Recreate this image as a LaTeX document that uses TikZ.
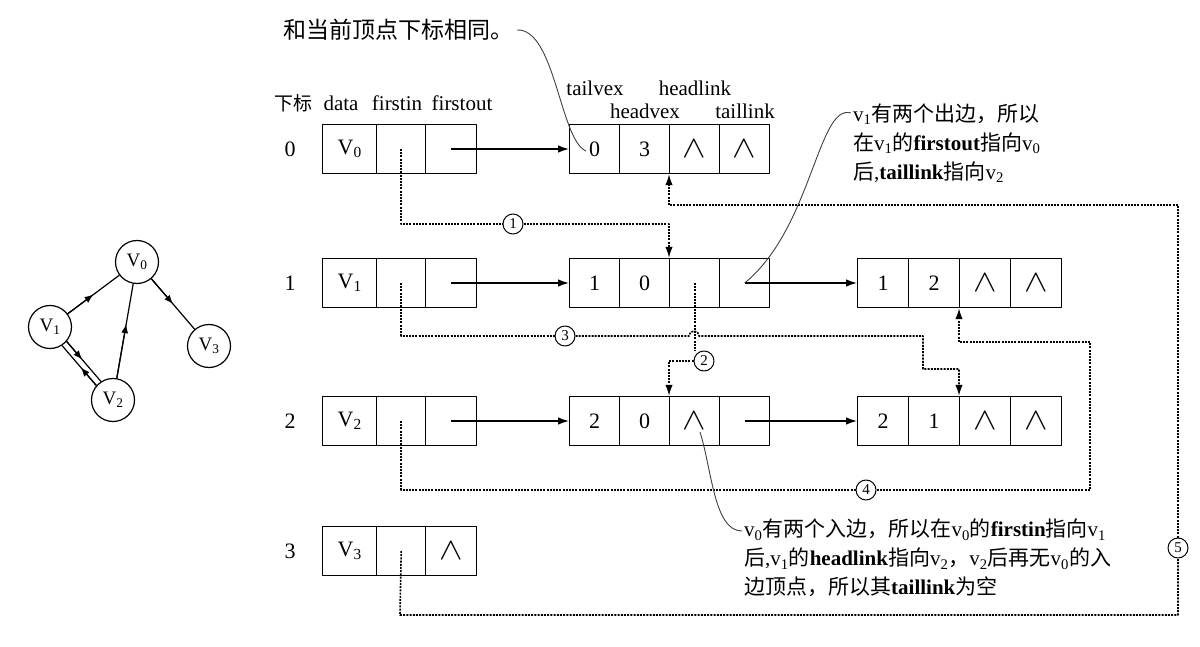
\documentclass[tikz,border=0pt]{standalone}
\usepackage{fontspec}
\setmainfont{Liberation Serif}
\newfontfamily\cjk{Noto Sans CJK SC}
\usetikzlibrary{arrows.meta,calc}
\newcommand\nullp{\scalebox{1.7}[1.5]{$\wedge$}}
\tikzset{
  lat/.style={font=\fontsize{21}{24}\selectfont},
  cell/.style={draw, line width=1.4pt, minimum height=49pt, inner sep=0pt, anchor=west, font=\fontsize{22}{22}\selectfont},
  idx/.style={font=\fontsize{22}{22}\selectfont},
  arr/.style={line width=1.3pt, -{Latex[length=11pt,width=7.5pt]}},
  dots/.style={line width=1.6pt, dash pattern=on 2pt off 1.2pt},
  dotarr/.style={dots, -{Latex[length=11pt,width=7.5pt]}},
  circ/.style={draw, circle, line width=1pt, minimum size=20pt, inner sep=0pt, fill=white, font=\fontsize{15}{15}\selectfont},
  callout/.style={line width=0.9pt, draw=black!75},
  gv/.style={draw, circle, minimum size=43pt, inner sep=0pt, line width=1.2pt, font=\fontsize{19}{19}\selectfont},
  gedge/.style={line width=1.2pt},
  garr/.style={line width=1.2pt, -{Latex[length=9pt,width=7pt]}},
  note/.style={anchor=north west, align=left, inner sep=0pt, font=\fontsize{21}{29}\selectfont}
}
\begin{document}
\begin{tikzpicture}[x=1pt,y=-1pt,line join=round]
\useasboundingbox (0,0) rectangle (1200,647);

% ---------- small graph ----------
\node[gv] (v0) at (137,262) {V\textsubscript{0}};
\node[gv] (v1) at (50,327) {V\textsubscript{1}};
\node[gv] (v2) at (113,400) {V\textsubscript{2}};
\node[gv] (v3) at (209,346) {V\textsubscript{3}};
\draw[gedge] (v1) -- (v0);
\draw[garr] (v1) -- ($(v1)!0.5!(v0)$);
\draw[gedge] (v2) -- (v0);
\draw[garr] (v2) -- ($(v2)!0.55!(v0)$);
\draw[gedge] (v0) -- (v3);
\draw[garr] (v0) -- ($(v0)!0.5!(v3)$);
\draw[gedge] (v1.-41) -- (v2.123);
\draw[garr] (v1.-41) -- ($(v1.-41)!0.45!(v2.123)$);
\draw[gedge] (v2.139) -- (v1.-57);
\draw[garr] (v2.139) -- ($(v2.139)!0.45!(v1.-57)$);

% ---------- headers ----------
\node[font=\cjk\fontsize{23}{26}\selectfont, anchor=east] (t1) at (517,30) {和当前顶点下标相同。};
\node[font=\cjk\fontsize{19}{22}\selectfont] (hxb) at (293,103) {下标};
\node[lat] (hdata) at (341,103) {data};
\node[lat] (hfin) at (397,103) {firstin};
\node[lat] (hfout) at (462,103) {firstout};
\node[lat] (htv) at (595,88) {tailvex};
\node[lat] (hhl) at (695,88) {headlink};
\node[lat] (hhv) at (645,111) {headvex};
\node[lat] (htl) at (745,111) {taillink};

% ---------- index labels ----------
\node[idx] (n0) at (290,149) {0};
\node[idx] (n1) at (290,283) {1};
\node[idx] (n2) at (290,421) {2};
\node[idx] (n3) at (290,551) {3};

% ---------- vertex table ----------
\node[cell, minimum width=54pt] (d0) at (322,149) {V\textsubscript{0}};
\node[cell, minimum width=49pt] (i0) at (376,149) {};
\node[cell, minimum width=51pt] (o0) at (425,149) {};
\node[cell, minimum width=54pt] (d1) at (322,283) {V\textsubscript{1}};
\node[cell, minimum width=49pt] (i1) at (376,283) {};
\node[cell, minimum width=51pt] (o1) at (425,283) {};
\node[cell, minimum width=54pt] (d2) at (322,421) {V\textsubscript{2}};
\node[cell, minimum width=49pt] (i2) at (376,421) {};
\node[cell, minimum width=51pt] (o2) at (425,421) {};
\node[cell, minimum width=54pt] (d3) at (322,551) {V\textsubscript{3}};
\node[cell, minimum width=49pt] (i3) at (376,551) {};
\node[cell, minimum width=51pt] (o3) at (425,551) {\nullp};

% ---------- edge records ----------
\node[cell, minimum width=50pt] (E01) at (569,149) {0};
\node[cell, minimum width=50pt] (E02) at (619,149) {3};
\node[cell, minimum width=50pt] (E03) at (669,149) {\nullp};
\node[cell, minimum width=50pt] (E04) at (719,149) {\nullp};

\node[cell, minimum width=50pt] (E1A1) at (569,283) {1};
\node[cell, minimum width=50pt] (E1A2) at (619,283) {0};
\node[cell, minimum width=50pt] (E1A3) at (669,283) {};
\node[cell, minimum width=50pt] (E1A4) at (719,283) {};

\node[cell, minimum width=51pt] (E1B1) at (857,283) {1};
\node[cell, minimum width=51pt] (E1B2) at (908,283) {2};
\node[cell, minimum width=51pt] (E1B3) at (959,283) {\nullp};
\node[cell, minimum width=51pt] (E1B4) at (1010,283) {\nullp};

\node[cell, minimum width=50pt] (E2A1) at (569,421) {2};
\node[cell, minimum width=50pt] (E2A2) at (619,421) {0};
\node[cell, minimum width=50pt] (E2A3) at (669,421) {\nullp};
\node[cell, minimum width=50pt] (E2A4) at (719,421) {};

\node[cell, minimum width=51pt] (E2B1) at (857,421) {2};
\node[cell, minimum width=51pt] (E2B2) at (908,421) {1};
\node[cell, minimum width=51pt] (E2B3) at (959,421) {\nullp};
\node[cell, minimum width=51pt] (E2B4) at (1010,421) {\nullp};

% ---------- solid pointers ----------
\draw[arr] (o0.center) -- (E01.west);
\draw[arr] (o1.center) -- (E1A1.west);
\draw[arr] (E1A4.center) -- (E1B1.west);
\draw[arr] (o2.center) -- (E2A1.west);
\draw[arr] (E2A4.center) -- (E2B1.west);

% ---------- circled labels ----------
\node[circ] (c1) at (513,224) {1};
\node[circ] (c2) at (704,361) {2};
\node[circ] (c3) at (565,336) {3};
\node[circ] (c4) at (866,490) {4};
\node[circ] (c5) at (1178,548) {5};

% ---------- dotted pointers ----------
\draw[dots] (i0.center) |- (c1);
\draw[dotarr] (c1) -| (E1A3.north west);

\draw[dots] (E1A3.center) -- (c2.north -| E1A3.center);
\draw[dotarr] (c2) -| (E2A3.north west);

\draw[dots] (i1.center) |- (c3);
\draw[dotarr] (c3) -- (689,336) arc[start angle=180, end angle=360, radius=5] -- (923,336) -- (923,369) -| (E2B3.north west);

\draw[dots] (i2.center) |- (c4);
\draw[dotarr] (c4) -- (1090,490) -- (1090,342) -| (E1B3.south west);

\draw[dots] (i3.center) -- (400,615) -- (1178,615) -- (c5);
\draw[dotarr] (c5) -- (1178,205) -| (E03.south west);

% ---------- notes ----------
\node[note] (t2) at (853,104) {v\textsubscript{1}{\cjk 有两个出边，所以}\\
{\cjk 在}v\textsubscript{1}{\cjk 的}\textbf{firstout}{\cjk 指向}v\textsubscript{0}\\
{\cjk 后},\textbf{taillink}{\cjk 指向}v\textsubscript{2}};
\node[note] (t3) at (744,519) {v\textsubscript{0}{\cjk 有两个入边，所以在}v\textsubscript{0}{\cjk 的}\textbf{firstin}{\cjk 指向}v\textsubscript{1}\\
{\cjk 后},v\textsubscript{1}{\cjk 的}\textbf{headlink}{\cjk 指向}v\textsubscript{2}{\cjk ，}v\textsubscript{2}{\cjk 后再无}v\textsubscript{0}{\cjk 的入}\\
{\cjk 边顶点，所以其}\textbf{taillink}{\cjk 为空}};

% ---------- callout curves ----------
\coordinate (k1) at (586,151);
\coordinate (k2) at (851,113);
\coordinate (k3) at (742,531);
\coordinate (k3e) at (700,432);
\draw[callout] (t1.east) .. controls (555,28) and (560,140) .. (k1);
\draw[callout] (k2) .. controls (818,103) and (812,228) .. (E1A4.center);
\draw[callout] (k3) .. controls (714,531) and (712,470) .. (k3e);
\end{tikzpicture}
\end{document}
